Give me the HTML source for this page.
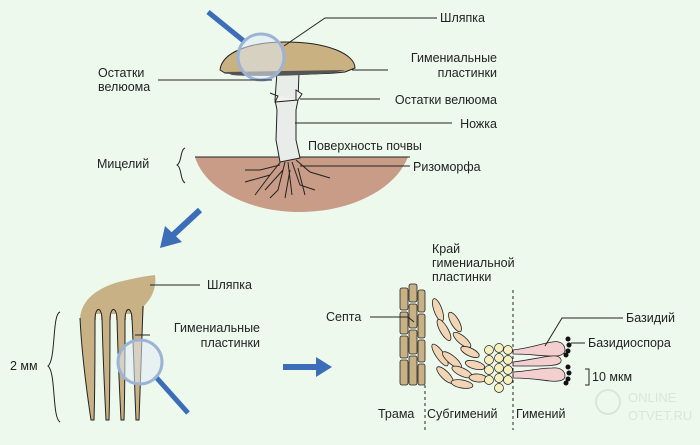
<!DOCTYPE html>
<html><head><meta charset="utf-8"><style>
html,body{margin:0;padding:0;background:#eef9ee;}
svg{display:block}
text{font-family:"Liberation Sans",sans-serif;font-size:12.5px;fill:#222;}
</style></head><body>
<svg width="700" height="445" viewBox="0 0 700 445" xmlns="http://www.w3.org/2000/svg">
<rect width="700" height="445" fill="#eef9ee"/>
<!-- soil -->
<path d="M195,157 L408,157 C395,190 350,212 300,212 C250,212 205,190 195,157 Z" fill="#c99c87"/>
<line x1="195" y1="157" x2="410" y2="157" stroke="#222" stroke-width="1"/>
<!-- roots -->
<g stroke="#222" stroke-width="1" fill="none">
<path d="M282,160 L270,175 L245,182 M270,175 L255,195 M285,162 L278,190 L270,198 M288,162 L292,195 M292,162 L300,185 L315,190 M296,160 L310,172 L330,178 M280,165 L260,170 L245,170 M283,170 L265,190 M290,170 L285,198 M298,168 L305,195"/>
</g>
<!-- stem -->
<path d="M277,72 L299,72 L298,100 L296,110 L296,140 L300,158 L280,162 L276,140 L277,110 L275,100 Z" fill="#e9ede9" stroke="#222" stroke-width="1"/>
<path d="M270,93 L278,96 L275,102 L298,100 L302,94 L296,90 L296,100" fill="#f2f2f0" stroke="#222" stroke-width="1"/>
<!-- cap -->
<path d="M220,70 C222,52 250,42 285,42 C330,42 355,55 355,68 L345,72 C320,75 250,75 225,73 Z" fill="#c9b181" stroke="#222" stroke-width="1"/>
<path d="M225,72 L345,70 C330,76 250,77 232,75 Z" fill="#555"/>
<!-- magnifier top -->
<line x1="208" y1="12" x2="245" y2="42" stroke="#3b6db8" stroke-width="5"/>
<circle cx="261" cy="57" r="23" fill="rgba(225,235,245,0.55)" stroke="#9bb3d6" stroke-width="3"/>
<!-- leader lines top -->
<g stroke="#222" stroke-width="1" fill="none">
<polyline points="284,46 325,18 437,18"/>
<line x1="352" y1="70" x2="388" y2="70"/>
<line x1="158" y1="80" x2="272" y2="80"/>
<line x1="300" y1="99" x2="380" y2="99"/>
<line x1="295" y1="123" x2="452" y2="123"/>
<line x1="300" y1="166" x2="410" y2="166"/>
<path d="M185,148 C180,150 182,162 177,165 C182,168 180,180 185,183"/>
</g>
<text x="440" y="22">Шляпка</text>
<text x="497" y="62" text-anchor="end">Гимениальные</text>
<text x="497" y="77" text-anchor="end">пластинки</text>
<text x="497" y="104" text-anchor="end">Остатки велюома</text>
<text x="497" y="128" text-anchor="end">Ножка</text>
<text x="308" y="150">Поверхность почвы</text>
<text x="413" y="171">Ризоморфа</text>
<text x="98" y="77">Остатки</text>
<text x="98" y="91">велюома</text>
<text x="97" y="168">Мицелий</text>
<!-- arrow down-left -->
<line x1="200" y1="210" x2="172" y2="236" stroke="#3b6db8" stroke-width="6"/>
<polygon points="160,248 165,226 182,242" fill="#3b6db8"/>
<!-- gills bottom left -->
<path d="M80,318 C82,300 95,290 115,283 C130,279 145,276 155,275 C157,290 150,300 144,306 L143,318 Z" fill="#c8b285"/>
<g fill="#c8b285" stroke="#222" stroke-width="1">
<path d="M80,318 C82,360 88,400 91,420 L94,420 C95,390 95,350 95,318"/>
<path d="M102,318 C103,360 105,400 106,420 L109,420 C110,390 110,350 110,318"/>
<path d="M117,318 C118,360 120,400 121,420 L124,420 C125,390 125,350 125,318"/>
<path d="M132,318 C134,360 135,400 136,420 L139,420 C140,390 142,340 143,306"/>
</g>
<rect x="81" y="313" width="61" height="7" fill="#c8b285"/>
<rect x="96" y="314" width="5" height="8" fill="#eef9ee"/>
<rect x="111" y="314" width="5" height="8" fill="#eef9ee"/>
<rect x="126" y="314" width="5" height="8" fill="#eef9ee"/>
<path d="M95,320 C95,306 102,306 102,320 M110,320 C110,306 117,306 117,320 M125,320 C125,306 132,306 132,320" fill="none" stroke="#222" stroke-width="1"/>
<line x1="150" y1="285" x2="200" y2="285" stroke="#222"/>
<line x1="135" y1="335" x2="150" y2="335" stroke="#222"/>
<text x="207" y="289">Шляпка</text>
<text x="260" y="332" text-anchor="end">Гимениальные</text>
<text x="260" y="347" text-anchor="end">пластинки</text>
<line x1="155" y1="376" x2="188" y2="413" stroke="#3b6db8" stroke-width="5"/>
<circle cx="140" cy="362" r="22" fill="rgba(225,235,245,0.55)" stroke="#9bb3d6" stroke-width="3"/>
<path d="M60,312 C52,314 56,360 48,366 C56,372 52,418 60,422" fill="none" stroke="#222"/>
<text x="10" y="370">2 мм</text>
<!-- arrow right -->
<line x1="283" y1="367" x2="318" y2="367" stroke="#3b6db8" stroke-width="6"/>
<polygon points="332,367 316,357 316,377" fill="#3b6db8"/>
<!-- trama -->
<g fill="#c8b285" stroke="#222" stroke-width="0.8">
<rect x="400" y="288" width="8" height="22" rx="2"/><rect x="400" y="312" width="8" height="22" rx="2"/><rect x="400" y="336" width="8" height="22" rx="2"/><rect x="400" y="360" width="8" height="25" rx="2"/>
<rect x="409" y="284" width="8" height="18" rx="2"/><rect x="409" y="304" width="8" height="24" rx="2"/><rect x="409" y="330" width="8" height="24" rx="2"/><rect x="409" y="356" width="8" height="29" rx="2"/>
<rect x="418" y="290" width="7" height="22" rx="2"/><rect x="418" y="314" width="7" height="24" rx="2"/><rect x="418" y="340" width="7" height="22" rx="2"/><rect x="418" y="364" width="7" height="21" rx="2"/>
</g>
<!-- subhymenium -->
<g fill="#f2d5b5" stroke="#222" stroke-width="0.8">
<ellipse cx="438" cy="310" rx="4" ry="12" transform="rotate(-20 438 310)"/>
<ellipse cx="444" cy="330" rx="4" ry="12" transform="rotate(-30 444 330)"/>
<ellipse cx="455" cy="322" rx="4" ry="11" transform="rotate(-30 455 322)"/>
<ellipse cx="462" cy="340" rx="4" ry="11" transform="rotate(-50 462 340)"/>
<ellipse cx="440" cy="355" rx="4" ry="13" transform="rotate(-35 440 355)"/>
<ellipse cx="452" cy="360" rx="4" ry="12" transform="rotate(-50 452 360)"/>
<ellipse cx="470" cy="352" rx="4" ry="10" transform="rotate(-65 470 352)"/>
<ellipse cx="445" cy="375" rx="4" ry="11" transform="rotate(-45 445 375)"/>
<ellipse cx="462" cy="372" rx="4" ry="11" transform="rotate(-65 462 372)"/>
<ellipse cx="475" cy="365" rx="4" ry="10" transform="rotate(-75 475 365)"/>
<ellipse cx="462" cy="384" rx="4" ry="11" transform="rotate(-80 462 384)"/>
<ellipse cx="478" cy="378" rx="4" ry="9" transform="rotate(-85 478 378)"/>
</g>
<g fill="#f6f0c0" stroke="#222" stroke-width="0.7">
<circle cx="489" cy="350" r="4.5"/><circle cx="499" cy="348" r="4.5"/><circle cx="508" cy="350" r="4.5"/>
<circle cx="489" cy="360" r="4.5"/><circle cx="499" cy="358" r="4.5"/><circle cx="508" cy="360" r="4.5"/>
<circle cx="489" cy="370" r="4.5"/><circle cx="499" cy="368" r="4.5"/><circle cx="508" cy="370" r="4.5"/>
<circle cx="489" cy="380" r="4.5"/><circle cx="499" cy="378" r="4.5"/><circle cx="508" cy="380" r="4.5"/>
<circle cx="499" cy="388" r="4.5"/>
</g>
<!-- basidia -->
<g fill="#f4cfcf" stroke="#222" stroke-width="0.8">
<path d="M513,350 C530,348 540,344 552,342 C562,340 565,346 565,350 C565,354 560,357 550,356 C540,356 530,354 513,354 Z"/>
<path d="M513,362 C530,360 540,357 552,356 C560,355 563,360 560,363 C556,366 545,366 535,366 C528,366 520,366 513,366 Z"/>
<path d="M513,372 C530,371 540,368 552,368 C562,367 565,372 565,376 C565,380 560,382 550,381 C540,380 530,378 513,378 Z"/>
</g>
<g fill="#111">
<circle cx="568" cy="339" r="2.5"/><circle cx="569" cy="345" r="2.5"/><circle cx="568" cy="351" r="2.5"/><circle cx="566" cy="355" r="2.5"/>
<circle cx="568" cy="367" r="2.5"/><circle cx="569" cy="373" r="2.5"/><circle cx="568" cy="379" r="2.5"/><circle cx="566" cy="383" r="2.5"/>
</g>
<g stroke="#222" stroke-width="1" fill="none">
<line x1="425" y1="385" x2="425" y2="430" stroke-dasharray="3,3"/>
<line x1="513" y1="290" x2="513" y2="430" stroke-dasharray="3,3"/>
<line x1="370" y1="317" x2="408" y2="317"/><line x1="408" y1="317" x2="414" y2="322"/>
<polyline points="545,346 562,318 623,318"/>
<line x1="571" y1="343" x2="585" y2="343"/>
<polyline points="585,369 589,369 589,385 585,385"/>
</g>
<text x="432" y="253">Край</text>
<text x="432" y="267">гимениальной</text>
<text x="432" y="281">пластинки</text>
<text x="326" y="321">Септа</text>
<text x="626" y="322">Базидий</text>
<text x="588" y="347">Базидиоспора</text>
<text x="592" y="381">10 мкм</text>
<text x="378" y="418">Трама</text>
<text x="427" y="418">Субгимений</text>
<text x="516" y="418">Гимений</text>
<text x="628" y="402" style="font-size:13px;fill:#d9e6d9">ONLINE</text>
<text x="628" y="420" style="font-size:13px;fill:#d9e6d9">OTVET.RU</text>
<circle cx="608" cy="402" r="12" fill="none" stroke="#d9e6d9" stroke-width="2"/>
</svg>
</body></html>
